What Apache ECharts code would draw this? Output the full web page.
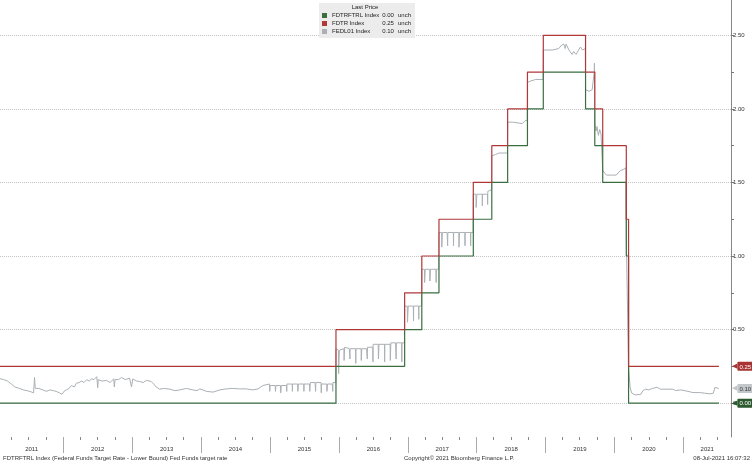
<!DOCTYPE html>
<html>
<head>
<meta charset="utf-8">
<script src="https://cdn.jsdelivr.net/npm/echarts@6/dist/echarts.min.js"></script>
<style>
  html, body { margin: 0; padding: 0; background: #fff; }
  #main { width: 752px; height: 463px; }
</style>
</head>
<body>
<div id="main"></div>
<script>
// Fed funds target range, dates of each change
const rateChangeDates = ['2011-01-01', '2015-12-17', '2016-12-15', '2017-03-16', '2017-06-15', '2017-12-14',
  '2018-03-22', '2018-06-14', '2018-09-27', '2018-12-20', '2019-08-01', '2019-09-19', '2019-10-31',
  '2020-03-04', '2020-03-16', '2021-07-08'];
const lowerBound = [0.00, 0.25, 0.50, 0.75, 1.00, 1.25, 1.50, 1.75, 2.00, 2.25, 2.00, 1.75, 1.50, 1.00, 0.00, 0.00];
const upperBound = [0.25, 0.50, 0.75, 1.00, 1.25, 1.50, 1.75, 2.00, 2.25, 2.50, 2.25, 2.00, 1.75, 1.25, 0.25, 0.25];

// effective fed funds rate
const fedl01 = [
  ['2011-01-20', 0.17], ['2011-02-20', 0.16], ['2011-03-12', 0.15], ['2011-04-01', 0.13], ['2011-04-20', 0.11],
  ['2011-05-15', 0.10], ['2011-06-05', 0.09], ['2011-06-15', 0.10], ['2011-07-08', 0.08], ['2011-07-28', 0.07],
  ['2011-08-02', 0.175], ['2011-08-06', 0.10], ['2011-08-25', 0.10], ['2011-09-15', 0.09], ['2011-10-05', 0.08],
  ['2011-10-22', 0.09], ['2011-11-10', 0.085], ['2011-11-25', 0.08], ['2011-12-12', 0.07], ['2011-12-26', 0.06],
  ['2012-01-05', 0.08], ['2012-01-18', 0.09], ['2012-02-01', 0.10], ['2012-02-14', 0.12], ['2012-03-01', 0.11],
  ['2012-03-10', 0.135], ['2012-03-25', 0.14], ['2012-04-08', 0.15], ['2012-04-20', 0.14], ['2012-05-05', 0.16],
  ['2012-05-18', 0.15], ['2012-05-30', 0.165], ['2012-06-12', 0.16], ['2012-06-27', 0.18], ['2012-07-02', 0.105],
  ['2012-07-05', 0.16], ['2012-07-25', 0.15], ['2012-08-18', 0.155], ['2012-09-05', 0.14], ['2012-09-25', 0.165],
  ['2012-09-28', 0.11], ['2012-10-02', 0.16], ['2012-10-20', 0.16], ['2012-11-05', 0.175], ['2012-11-25', 0.16],
  ['2012-12-18', 0.17], ['2012-12-28', 0.11], ['2013-01-04', 0.165], ['2013-01-25', 0.15], ['2013-02-10', 0.147],
  ['2013-02-28', 0.14], ['2013-03-18', 0.155], ['2013-04-12', 0.147], ['2013-04-25', 0.13], ['2013-05-08', 0.11],
  ['2013-05-26', 0.095], ['2013-06-20', 0.10], ['2013-07-20', 0.095], ['2013-08-15', 0.085], ['2013-09-10', 0.09],
  ['2013-10-15', 0.10], ['2013-11-18', 0.09], ['2013-12-10', 0.085], ['2013-12-25', 0.097], ['2014-01-30', 0.08],
  ['2014-03-05', 0.075], ['2014-04-10', 0.09], ['2014-05-15', 0.097], ['2014-06-18', 0.10], ['2014-07-25', 0.097],
  ['2014-08-28', 0.097], ['2014-10-01', 0.09], ['2014-10-30', 0.097], ['2014-11-25', 0.12],
  ['2014-12-29', 0.13], ['2014-12-31', 0.08], ['2015-01-02', 0.12],
  ['2015-01-29', 0.12], ['2015-01-30', 0.08], ['2015-02-02', 0.12],
  ['2015-02-26', 0.12], ['2015-02-27', 0.07], ['2015-03-02', 0.12],
  ['2015-03-30', 0.12], ['2015-03-31', 0.08], ['2015-04-01', 0.13],
  ['2015-04-29', 0.13], ['2015-04-30', 0.08], ['2015-05-01', 0.13],
  ['2015-05-28', 0.13], ['2015-05-29', 0.08], ['2015-06-01', 0.13],
  ['2015-06-29', 0.13], ['2015-06-30', 0.08], ['2015-07-01', 0.13],
  ['2015-07-30', 0.13], ['2015-07-31', 0.08], ['2015-08-03', 0.14],
  ['2015-08-28', 0.14], ['2015-08-31', 0.08], ['2015-09-01', 0.14],
  ['2015-09-29', 0.14], ['2015-09-30', 0.07], ['2015-10-01', 0.13],
  ['2015-10-29', 0.13], ['2015-10-30', 0.08], ['2015-11-02', 0.13],
  ['2015-11-27', 0.13], ['2015-11-30', 0.08], ['2015-12-01', 0.14],
  ['2015-12-16', 0.14], ['2015-12-17', 0.37],
  ['2015-12-30', 0.36], ['2015-12-31', 0.20], ['2016-01-04', 0.36],
  ['2016-01-28', 0.37], ['2016-01-29', 0.29], ['2016-02-01', 0.38],
  ['2016-02-26', 0.37], ['2016-02-29', 0.30], ['2016-03-01', 0.37],
  ['2016-03-30', 0.37], ['2016-03-31', 0.27], ['2016-04-01', 0.37],
  ['2016-04-28', 0.37], ['2016-04-29', 0.29], ['2016-05-02', 0.37],
  ['2016-05-27', 0.37], ['2016-05-31', 0.30], ['2016-06-01', 0.38],
  ['2016-06-29', 0.38], ['2016-06-30', 0.28], ['2016-07-01', 0.40],
  ['2016-07-28', 0.40], ['2016-07-29', 0.30], ['2016-08-01', 0.40],
  ['2016-08-30', 0.40], ['2016-08-31', 0.28], ['2016-09-01', 0.40],
  ['2016-09-29', 0.40], ['2016-09-30', 0.29], ['2016-10-03', 0.41],
  ['2016-10-28', 0.41], ['2016-10-31', 0.30], ['2016-11-01', 0.41],
  ['2016-11-29', 0.41], ['2016-11-30', 0.28], ['2016-12-01', 0.41],
  ['2016-12-14', 0.41], ['2016-12-15', 0.66],
  ['2016-12-29', 0.66], ['2016-12-30', 0.55], ['2017-01-03', 0.66],
  ['2017-01-30', 0.66], ['2017-01-31', 0.56], ['2017-02-01', 0.66],
  ['2017-02-27', 0.66], ['2017-02-28', 0.57], ['2017-03-01', 0.66],
  ['2017-03-15', 0.66], ['2017-03-16', 0.91],
  ['2017-03-30', 0.91], ['2017-03-31', 0.82], ['2017-04-03', 0.91],
  ['2017-04-27', 0.91], ['2017-04-28', 0.83], ['2017-05-01', 0.91],
  ['2017-05-30', 0.91], ['2017-05-31', 0.82], ['2017-06-01', 0.91],
  ['2017-06-14', 0.91], ['2017-06-15', 1.16],
  ['2017-06-29', 1.16], ['2017-06-30', 1.06], ['2017-07-03', 1.16],
  ['2017-07-28', 1.16], ['2017-07-31', 1.07], ['2017-08-01', 1.16],
  ['2017-08-30', 1.16], ['2017-08-31', 1.07], ['2017-09-01', 1.16],
  ['2017-09-28', 1.16], ['2017-09-29', 1.06], ['2017-10-02', 1.16],
  ['2017-10-30', 1.16], ['2017-10-31', 1.07], ['2017-11-01', 1.16],
  ['2017-11-29', 1.16], ['2017-11-30', 1.07], ['2017-12-01', 1.16],
  ['2017-12-13', 1.16], ['2017-12-14', 1.42],
  ['2017-12-28', 1.42], ['2017-12-29', 1.33], ['2018-01-02', 1.42],
  ['2018-01-30', 1.42], ['2018-01-31', 1.34], ['2018-02-01', 1.42],
  ['2018-02-27', 1.42], ['2018-02-28', 1.35], ['2018-03-01', 1.44],
  ['2018-03-21', 1.45], ['2018-03-22', 1.68], ['2018-03-29', 1.67], ['2018-04-10', 1.69],
  ['2018-04-30', 1.70], ['2018-05-15', 1.70], ['2018-06-13', 1.70], ['2018-06-14', 1.91],
  ['2018-07-10', 1.91], ['2018-08-31', 1.90], ['2018-09-15', 1.92], ['2018-09-26', 1.92],
  ['2018-09-27', 2.18], ['2018-10-15', 2.19], ['2018-11-10', 2.20], ['2018-12-19', 2.20],
  ['2018-12-20', 2.40], ['2019-02-05', 2.40], ['2019-03-12', 2.41], ['2019-03-28', 2.435],
  ['2019-04-08', 2.44], ['2019-04-15', 2.41], ['2019-04-20', 2.44], ['2019-05-05', 2.40],
  ['2019-05-22', 2.37], ['2019-05-30', 2.39], ['2019-06-12', 2.37], ['2019-06-25', 2.40],
  ['2019-07-05', 2.42], ['2019-07-16', 2.40], ['2019-07-31', 2.41],
  ['2019-08-01', 2.13], ['2019-08-20', 2.12], ['2019-09-05', 2.13], ['2019-09-16', 2.25],
  ['2019-09-17', 2.31], ['2019-09-18', 2.25],
  ['2019-09-19', 1.90], ['2019-09-26', 1.85], ['2019-10-01', 1.88], ['2019-10-08', 1.82],
  ['2019-10-15', 1.86], ['2019-10-22', 1.83], ['2019-10-30', 1.83],
  ['2019-10-31', 1.58], ['2019-11-20', 1.55], ['2019-12-15', 1.55], ['2020-01-10', 1.55],
  ['2020-02-01', 1.58], ['2020-02-20', 1.59], ['2020-03-02', 1.60], ['2020-03-03', 1.59],
  ['2020-03-04', 1.10], ['2020-03-13', 1.10],
  ['2020-03-16', 0.25], ['2020-03-24', 0.11], ['2020-04-01', 0.07], ['2020-04-20', 0.056],
  ['2020-05-20', 0.06], ['2020-06-01', 0.086], ['2020-06-15', 0.095], ['2020-07-01', 0.09],
  ['2020-07-20', 0.10], ['2020-08-15', 0.108], ['2020-09-01', 0.095], ['2020-10-01', 0.095],
  ['2020-11-05', 0.095], ['2020-11-20', 0.086], ['2020-12-20', 0.09], ['2021-01-25', 0.08],
  ['2021-02-20', 0.072], ['2021-03-28', 0.072], ['2021-04-22', 0.068], ['2021-05-22', 0.063],
  ['2021-06-08', 0.068], ['2021-06-17', 0.107], ['2021-06-22', 0.095], ['2021-07-07', 0.10]
];

const years = [2011, 2012, 2013, 2014, 2015, 2016, 2017, 2018, 2019, 2020, 2021];
const yLabelValues = [0, 0.5, 1, 1.5, 2, 2.5];
const yTickValues = [0, 0.25, 0.5, 0.75, 1, 1.25, 1.5, 1.75, 2, 2.25, 2.5];
const axisStart = '2011-01-31';
const axisEnd = '2021-09-10';

const GREEN = '#3a6e40';
const RED = '#b03838';
const GREY = '#aab0b4';

// dates -> timestamps, x axis is a plain value axis
function ts(d) { return +new Date(d + 'T00:00:00'); }

let lowerData = rateChangeDates.map((d, i) => [ts(d), lowerBound[i]]);
let upperData = rateChangeDates.map((d, i) => [ts(d), upperBound[i]]);
let effrData = fedl01.map(p => [ts(p[0]), p[1]]);

let lastPrice = {
  'FDTRFTRL Index': lowerBound[lowerBound.length - 1],
  'FDTR Index': upperBound[upperBound.length - 1],
  'FEDL01 Index': fedl01[fedl01.length - 1][1]
};

// year separators, quarter ticks, and year labels centred in the visible part of each year
let tStart = ts(axisStart);
let tEnd = ts(axisEnd);
let yearStarts = years.map(y => +new Date(y, 0, 1)).filter(t => t > tStart && t < tEnd);
let quarterTicks = [];
years.forEach(y => { [3, 6, 9].forEach(m => quarterTicks.push(+new Date(y, m, 1))); });
quarterTicks = quarterTicks.filter(t => t > tStart && t < tEnd);
let yearMids = years.map(y => {
  let a = Math.max(tStart, +new Date(y, 0, 1));
  let b = Math.min(tEnd, +new Date(y + 1, 0, 1));
  return (a + b) / 2;
});

function tag(bg, fg) {
  return {
    show: true,
    position: 'end',
    distance: 1,
    formatter: p => '{a|◀}{b|' + Number(p.value).toFixed(2) + '}',
    rich: {
      a: { color: bg, fontSize: 7, fontFamily: 'DejaVu Sans' },
      b: { backgroundColor: bg, color: fg, fontSize: 6, fontFamily: 'Liberation Sans', padding: [2, 2, 1, 2], borderRadius: 1 }
    }
  };
}

let myChart = echarts.init(document.getElementById('main'));

const option = {
  animation: false,
  backgroundColor: '#fff',
  textStyle: { fontFamily: 'Liberation Sans' },
  title: [
    { text: 'Last Price', left: 365, top: 4, textAlign: 'center', padding: 0,
      textStyle: { fontSize: 6, fontWeight: 'normal', color: '#222' } },
    { text: 'FDTRFTRL Index (Federal Funds Target Rate - Lower Bound) Fed Funds target rate', left: 3, top: 455, padding: 0,
      textStyle: { fontSize: 6, fontWeight: 'normal', color: '#333' } },
    { text: 'Copyright\u00a9 2021 Bloomberg Finance L.P.', left: 404, top: 455, padding: 0,
      textStyle: { fontSize: 6, fontWeight: 'normal', color: '#333' } },
    { text: '08-Jul-2021 16:07:32', right: 2, top: 455, padding: 0,
      textStyle: { fontSize: 6, fontWeight: 'normal', color: '#333' } }
  ],
  legend: {
    left: 319,
    top: 3,
    orient: 'vertical',
    icon: 'rect',
    itemWidth: 5,
    itemHeight: 5,
    itemGap: 1,
    padding: [9, 4, 3, 3],
    backgroundColor: '#ececec',
    selectedMode: false,
    formatter: name => '{n|' + name + '}{v|' + lastPrice[name].toFixed(2) + '}{u|unch}',
    textStyle: {
      fontSize: 6, color: '#222', lineHeight: 7,
      rich: {
        n: { width: 50, fontSize: 6, color: '#222' },
        v: { width: 12, align: 'right', fontSize: 6, color: '#222' },
        u: { padding: [0, 0, 0, 4], fontSize: 6, color: '#222' }
      }
    },
    data: ['FDTRFTRL Index', 'FDTR Index', 'FEDL01 Index']
  },
  grid: { left: 0, right: 21, top: 0, bottom: 26 },
  xAxis: [
    {
      type: 'value', position: 'bottom', min: tStart, max: tEnd,
      axisLine: { show: false, onZero: false },
      splitLine: { show: false },
      axisTick: { show: true, length: 3, customValues: quarterTicks, lineStyle: { color: '#888' } },
      axisLabel: {
        customValues: yearMids, margin: 9, fontSize: 6, color: '#333',
        formatter: v => String(new Date(v).getFullYear())
      }
    },
    {
      type: 'value', position: 'bottom', min: tStart, max: tEnd,
      axisLine: { show: false, onZero: false },
      splitLine: { show: false },
      axisTick: { show: true, length: 16, customValues: yearStarts, lineStyle: { color: '#aaa' } },
      axisLabel: { show: false }
    }
  ],
  yAxis: [
    {
      type: 'value', position: 'right', min: -0.23, max: 2.74,
      axisLine: { show: true, onZero: false, lineStyle: { color: '#888', width: 1 } },
      axisTick: { show: true, length: 3, customValues: yTickValues, lineStyle: { color: '#777' } },
      axisLabel: { customValues: yLabelValues, margin: 2, fontSize: 6, color: '#333', formatter: v => v.toFixed(2) },
      splitLine: { show: false }
    },
    {
      type: 'value', position: 'right', min: -0.23, max: 2.74,
      axisLine: { show: false, onZero: false },
      axisTick: { show: false, customValues: yLabelValues },
      axisLabel: { show: false },
      splitLine: { show: true, lineStyle: { type: 'dotted', color: '#c4c4c4', width: 1 } }
    }
  ],
  series: [
    {
      name: 'FDTRFTRL Index', type: 'line', step: 'end', data: lowerData,
      showSymbol: false, symbol: 'none', z: 4,
      color: GREEN, lineStyle: { color: GREEN, width: 1.2 },
      markLine: { silent: true, symbol: 'none', lineStyle: { color: 'rgba(0,0,0,0)', width: 1 }, label: tag('#2c5a2f', '#fff'),
        data: [{ yAxis: lastPrice['FDTRFTRL Index'] }] }
    },
    {
      name: 'FDTR Index', type: 'line', step: 'end', data: upperData,
      showSymbol: false, symbol: 'none', z: 4,
      color: RED, lineStyle: { color: RED, width: 1.2 },
      markLine: { silent: true, symbol: 'none', lineStyle: { color: 'rgba(0,0,0,0)', width: 1 }, label: tag('#a93434', '#fff'),
        data: [{ yAxis: lastPrice['FDTR Index'] }] }
    },
    {
      name: 'FEDL01 Index', type: 'line', data: effrData,
      showSymbol: false, symbol: 'none', z: 3,
      color: GREY, lineStyle: { color: GREY, width: 1 },
      markLine: { silent: true, symbol: 'none', lineStyle: { color: 'rgba(0,0,0,0)', width: 1 }, label: tag('#c3c7ca', '#333'),
        data: [{ yAxis: lastPrice['FEDL01 Index'] }] }
    }
  ]
};

myChart.setOption(option);
</script>
</body>
</html>
